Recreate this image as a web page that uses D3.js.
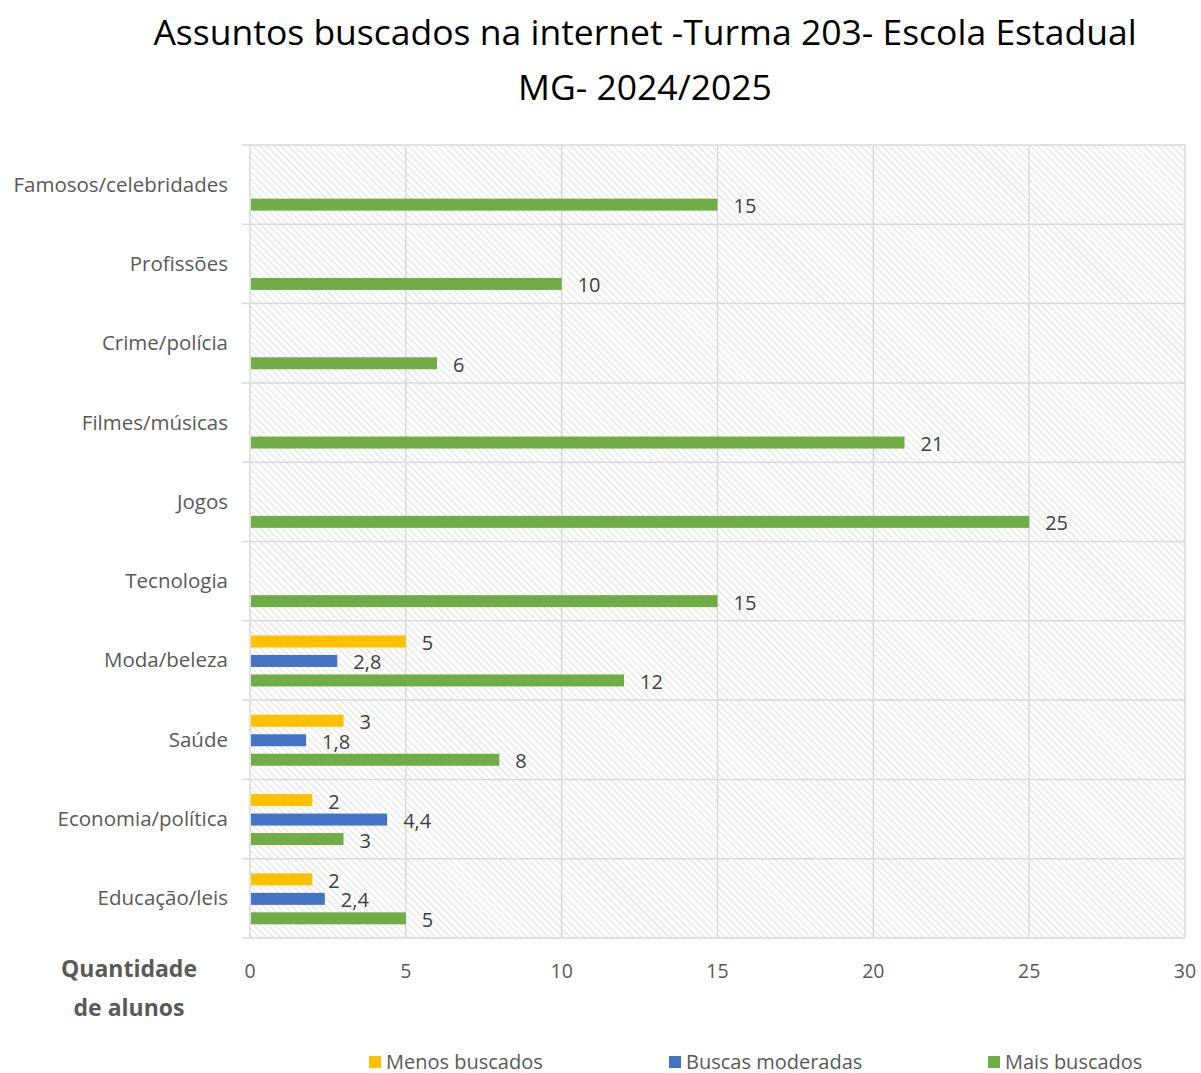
<!DOCTYPE html>
<html>
<head>
<meta charset="utf-8">
<script src="https://cdn.jsdelivr.net/npm/d3@7"></script>
<style>
  body { margin: 0; background: #fff; }
  text { font-family: "Open Sans", "Noto Sans", sans-serif; }
</style>
</head>
<body>
<svg id="chart" width="1201" height="1073"></svg>
<script>
const categories = [
  'Famosos/celebridades', 'Profissões', 'Crime/polícia', 'Filmes/músicas', 'Jogos',
  'Tecnologia', 'Moda/beleza', 'Saúde', 'Economia/política', 'Educação/leis',
];
const menosBuscados = [null, null, null, null, null, null, 5, 3, 2, 2];
const buscasModeradas = [null, null, null, null, null, null, 2.8, 1.8, 4.4, 2.4];
const maisBuscados = [15, 10, 6, 21, 25, 15, 12, 8, 3, 5];
const xTicks = [0, 5, 10, 15, 20, 25, 30];

const series = [
  { name: 'Menos buscados', values: menosBuscados, color: '#FFC000' },
  { name: 'Buscas moderadas', values: buscasModeradas, color: '#4472C4' },
  { name: 'Mais buscados', values: maisBuscados, color: '#70AD47' },
];

const svg = d3.select('#chart');
const plot = { left: 250, right: 1185, top: 145, bottom: 938 };

const x = d3.scaleLinear().domain([0, 30]).range([plot.left, plot.right]);
const y = d3.scaleBand().domain(categories).range([plot.top, plot.bottom]);
const inner = d3.scaleBand().domain(series.map(s => s.name))
  .range([y.bandwidth() / 2 - 32.5, y.bandwidth() / 2 + 33.5]).padding(0.385);

// hatch pattern (lines running down to the right)
const defs = svg.append('defs');
const pat = defs.append('pattern')
  .attr('id', 'hatch')
  .attr('patternUnits', 'userSpaceOnUse')
  .attr('width', 5).attr('height', 5)
  .attr('patternTransform', 'rotate(-45)');
pat.append('rect').attr('width', 5).attr('height', 5).attr('fill', '#fff');
pat.append('line')
  .attr('x1', 0).attr('y1', 0).attr('x2', 0).attr('y2', 5)
  .attr('stroke', '#d9d9d9').attr('stroke-width', 1.6);

svg.append('rect')
  .attr('x', plot.left).attr('y', plot.top)
  .attr('width', plot.right - plot.left).attr('height', plot.bottom - plot.top)
  .attr('fill', 'url(#hatch)');

// title
const title = svg.append('text')
  .attr('text-anchor', 'middle')
  .attr('font-size', 35.5).attr('fill', '#000');
title.append('tspan').attr('x', 645).attr('y', 45).text('Assuntos buscados na internet -Turma 203- Escola Estadual');
title.append('tspan').attr('x', 645).attr('y', 100).text('MG- 2024/2025');

// vertical gridlines
svg.append('g')
  .selectAll('line')
  .data(xTicks)
  .join('line')
  .attr('x1', d => x(d)).attr('x2', d => x(d))
  .attr('y1', plot.top).attr('y2', plot.bottom)
  .attr('stroke', '#d9d9d9').attr('stroke-width', 1.5);

// horizontal category boundaries (with ticks to the left)
const bounds = categories.map(c => y(c)).concat([plot.bottom]);
svg.append('g')
  .selectAll('line')
  .data(bounds)
  .join('line')
  .attr('x1', plot.left - 8).attr('x2', plot.right)
  .attr('y1', d => d).attr('y2', d => d)
  .attr('stroke', '#d9d9d9').attr('stroke-width', 1.5);

// category labels
svg.append('g')
  .selectAll('text')
  .data(categories)
  .join('text')
  .attr('x', 228)
  .attr('y', d => y(d) + y.bandwidth() / 2 - 1)
  .attr('text-anchor', 'end')
  .attr('dominant-baseline', 'central')
  .attr('font-size', 20.5)
  .attr('fill', '#595959')
  .text(d => d);

// bars
const fmt = v => String(v).replace('.', ',');
series.forEach(s => {
  const pts = categories.map((c, i) => ({ c, v: s.values[i] })).filter(d => d.v != null);
  const g = svg.append('g');
  g.selectAll('rect')
    .data(pts)
    .join('rect')
    .attr('x', x(0) + 1)
    .attr('y', d => y(d.c) + inner(s.name))
    .attr('width', d => x(d.v) - x(0) - 1)
    .attr('height', inner.bandwidth())
    .attr('fill', s.color);
  g.selectAll('text')
    .data(pts)
    .join('text')
    .attr('x', d => x(d.v) + 16)
    .attr('y', d => y(d.c) + inner(s.name) + inner.bandwidth() / 2 + 1)
    .attr('dominant-baseline', 'central')
    .attr('font-size', 20)
    .attr('fill', '#404040')
    .text(d => fmt(d.v));
});

// x tick labels
svg.append('g')
  .selectAll('text')
  .data(xTicks)
  .join('text')
  .attr('x', d => x(d))
  .attr('y', 970)
  .attr('text-anchor', 'middle')
  .attr('dominant-baseline', 'central')
  .attr('font-size', 19.5)
  .attr('fill', '#595959')
  .text(d => d);

// axis title
const at = svg.append('text')
  .attr('text-anchor', 'middle')
  .attr('font-size', 23).attr('font-weight', 'bold')
  .attr('fill', '#595959');
at.append('tspan').attr('x', 129).attr('y', 977).text('Quantidade');
at.append('tspan').attr('x', 129).attr('y', 1016).text('de alunos');

// legend
const legendX = [369, 669, 988];
const leg = svg.append('g')
  .selectAll('g')
  .data(series)
  .join('g')
  .attr('transform', (d, i) => `translate(${legendX[i]},1061)`);
leg.append('rect')
  .attr('x', 0).attr('y', -5).attr('width', 12).attr('height', 12)
  .attr('fill', d => d.color);
leg.append('text')
  .attr('x', 17).attr('y', 0)
  .attr('dominant-baseline', 'central')
  .attr('font-size', 20)
  .attr('fill', '#595959')
  .text(d => d.name);
</script>
</body>
</html>
